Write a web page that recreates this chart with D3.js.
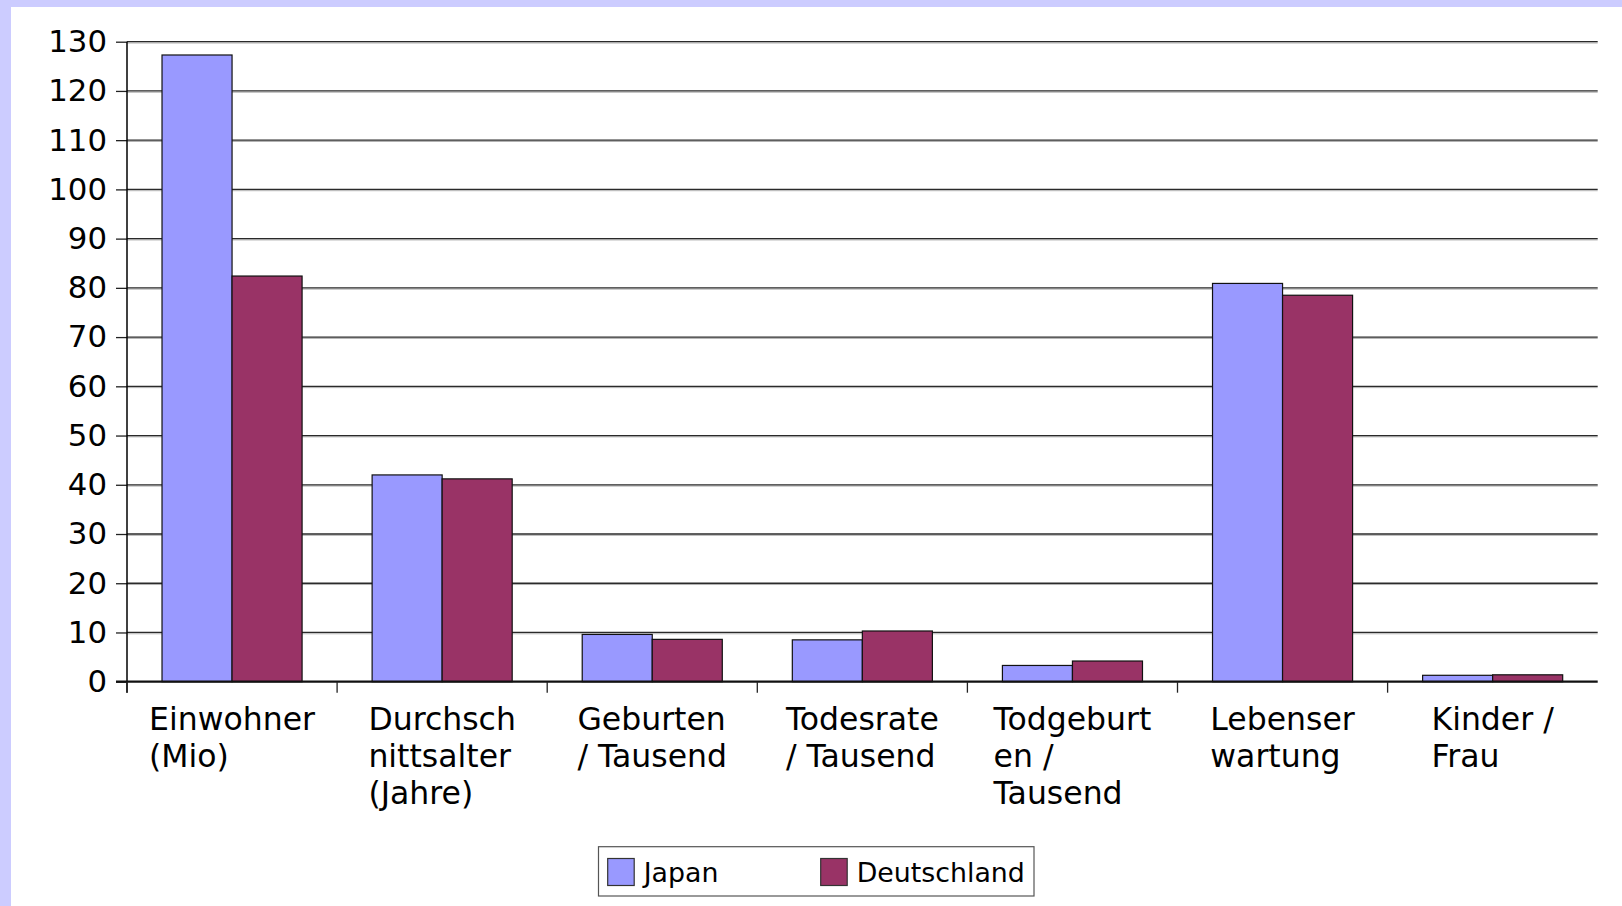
<!DOCTYPE html>
<html>
<head>
<meta charset="utf-8">
<script src="https://cdn.jsdelivr.net/npm/d3@7"></script>
<style>
  html, body { margin: 0; padding: 0; background: #ccccff; }
  svg { display: block; }
  text { font-family: "DejaVu Sans", sans-serif; fill: #000; }
</style>
</head>
<body>
<svg id="chart" width="1622" height="906"></svg>
<script>
// ---- data ----
const categories = [
  "Einwohner\n(Mio)",
  "Durchsch\nnittsalter\n(Jahre)",
  "Geburten\n/ Tausend",
  "Todesrate\n/ Tausend",
  "Todgeburt\nen /\nTausend",
  "Lebenser\nwartung",
  "Kinder /\nFrau"
];
const seriesNames = ["Japan", "Deutschland"];
const japanValues = [127.3, 42.0, 9.6, 8.5, 3.3, 80.9, 1.3];
const deutschlandValues = [82.4, 41.2, 8.6, 10.3, 4.2, 78.5, 1.4];
const yTicks = [0, 10, 20, 30, 40, 50, 60, 70, 80, 90, 100, 110, 120, 130];
const seriesColors = ["#9999ff", "#993366"];

const seriesValues = [japanValues, deutschlandValues];

(function () {
const svg = d3.select("#chart");

// white panel
svg.append("rect").attr("x", 11).attr("y", 7).attr("width", 1622 - 11).attr("height", 906 - 7).attr("fill", "#ffffff");

const pl = 127, pr = 1597.7, pt = 41.7, pb = 681.7;

const x = d3.scaleBand().domain(d3.range(categories.length)).range([pl, pr]).paddingInner(0).paddingOuter(0);
const bw = x.bandwidth();
const xs = d3.scaleBand().domain(seriesNames).range([bw / 6, bw * 5 / 6]).padding(0);
const y = d3.scaleLinear().domain([0, 130]).range([pb, pt]);

// gridlines (with light shadow)
const grid = svg.append("g");
yTicks.filter(t => t > 0).forEach(t => {
  grid.append("line").attr("x1", pl).attr("x2", pr).attr("y1", y(t) + 1.3).attr("y2", y(t) + 1.3)
    .attr("stroke", "#b0b0b0").attr("stroke-width", 1);
  grid.append("line").attr("x1", pl).attr("x2", pr).attr("y1", y(t)).attr("y2", y(t))
    .attr("stroke", "#2a2a2a").attr("stroke-width", 1.3);
});

// bars
const bars = svg.append("g");
seriesNames.forEach((s, si) => {
  bars.selectAll(null).data(seriesValues[si]).enter().append("rect")
    .attr("x", (d, i) => x(i) + xs(s))
    .attr("y", d => y(d))
    .attr("width", xs.bandwidth())
    .attr("height", d => pb - y(d))
    .attr("fill", seriesColors[si])
    .attr("stroke", "#111")
    .attr("stroke-width", 1.2);
});

// y axis
const yAxis = svg.append("g").attr("transform", `translate(${pl},0)`)
  .call(d3.axisLeft(y).tickValues(yTicks).tickSize(11).tickPadding(9).tickFormat(d3.format("d")));
yAxis.select(".domain").remove();
yAxis.selectAll(".tick line").attr("stroke", "#222").attr("stroke-width", 1.3);
yAxis.selectAll(".tick text").style("font-family", "DejaVu Sans").style("font-size", "30.8px").attr("fill", "#000");
svg.append("line").attr("x1", pl).attr("x2", pl).attr("y1", pt).attr("y2", pb + 11)
  .attr("stroke", "#000").attr("stroke-width", 1.5);

// x axis baseline and category ticks
svg.append("line").attr("x1", pl - 11).attr("x2", pr).attr("y1", pb).attr("y2", pb)
  .attr("stroke", "#111").attr("stroke-width", 2.2);
svg.append("g").selectAll("line").data(d3.range(categories.length)).enter().append("line")
  .attr("x1", i => x(i)).attr("x2", i => x(i)).attr("y1", pb).attr("y2", pb + 11)
  .attr("stroke", "#222").attr("stroke-width", 1.3);

// category labels: block centered, lines left-aligned
const labG = svg.append("g");
categories.forEach((c, i) => {
  const lines = c.split("\n");
  const t = labG.append("text").style("font-size", "31.5px");
  lines.forEach((ln, k) => {
    t.append("tspan").attr("y", 730 + k * 37).text(ln);
  });
  let maxW = 0;
  t.selectAll("tspan").each(function () { maxW = Math.max(maxW, this.getComputedTextLength()); });
  const lx = x(i) + bw / 2 - maxW / 2;
  t.selectAll("tspan").attr("x", lx);
});

// legend
const lg = svg.append("g");
lg.append("rect").attr("x", 598.5).attr("y", 846.7).attr("width", 435.5).attr("height", 49.3)
  .attr("fill", "#fff").attr("stroke", "#555").attr("stroke-width", 1.2);
const legX = [607.7, 820.7];
seriesNames.forEach((s, si) => {
  lg.append("rect").attr("x", legX[si]).attr("y", 858.5).attr("width", 26.5).attr("height", 27)
    .attr("fill", seriesColors[si]).attr("stroke", "#333").attr("stroke-width", 1.2);
  lg.append("text").attr("x", legX[si] + 36).attr("y", 881.7).style("font-size", "26.8px").text(s);
});
})();
</script>
</body>
</html>
